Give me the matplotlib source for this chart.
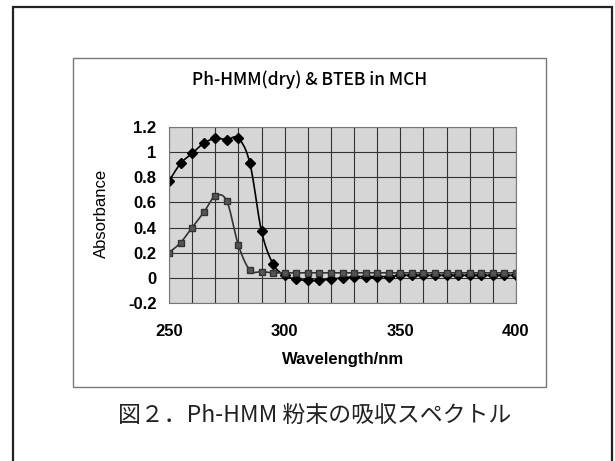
import matplotlib
matplotlib.use('Agg')
import numpy as np
import matplotlib.pyplot as plt
from matplotlib.patches import Rectangle
from matplotlib.ticker import MultipleLocator, FormatStrFormatter

plt.rcParams['font.family'] = ['Liberation Sans', 'DejaVu Sans']
plt.rcParams['axes.unicode_minus'] = False

# wavelength (nm), 5 nm steps
wl = list(range(250, 405, 5))

# Ph-HMM(dry) - diamonds
ph_hmm = [0.77, 0.91, 0.99, 1.07, 1.11, 1.10, 1.11, 0.91, 0.37, 0.11,
          0.02, -0.01, -0.02, -0.02, -0.01, 0.00, 0.01, 0.01, 0.01, 0.01,
          0.02, 0.02, 0.02, 0.02, 0.02, 0.02, 0.02, 0.02, 0.02, 0.02, 0.02]

# BTEB in MCH - squares
bteb = [0.20, 0.28, 0.40, 0.52, 0.65, 0.61, 0.26, 0.06, 0.05, 0.04,
        0.04, 0.04, 0.04, 0.04, 0.04, 0.04, 0.04, 0.04, 0.04, 0.04,
        0.04, 0.04, 0.04, 0.04, 0.04, 0.04, 0.04, 0.04, 0.04, 0.04, 0.04]

title = 'Ph-HMM(dry) & BTEB in MCH'
caption = '図２．Ph-HMM 粉末の吸収スペクトル'


def smooth(x, y, n=12):
    # Excel-like smoothed line (Catmull-Rom through the points), drawing only
    x = np.asarray(x, float)
    y = np.asarray(y, float)
    px = np.r_[x[0], x, x[-1]]
    py = np.r_[y[0], y, y[-1]]
    t = np.linspace(0, 1, n, endpoint=False)[:, None]
    segs_x, segs_y = [], []
    for i in range(1, len(x)):
        p0, p1, p2, p3 = px[i - 1], px[i], px[i + 1], px[i + 2]
        q0, q1, q2, q3 = py[i - 1], py[i], py[i + 1], py[i + 2]
        h = [2 * t**3 - 3 * t**2 + 1, t**3 - 2 * t**2 + t, -2 * t**3 + 3 * t**2, t**3 - t**2]
        segs_x.append(h[0] * p1 + h[1] * (p2 - p0) / 2 + h[2] * p2 + h[3] * (p3 - p1) / 2)
        segs_y.append(h[0] * q1 + h[1] * (q2 - q0) / 2 + h[2] * q2 + h[3] * (q3 - q1) / 2)
    sx = np.r_[np.concatenate(segs_x).ravel(), x[-1]]
    sy = np.r_[np.concatenate(segs_y).ravel(), y[-1]]
    return sx, sy


fig = plt.figure(figsize=(6.15, 4.61), dpi=100)
W, H = 615.0, 461.0


# outer frame and chart box (pixel coords -> figure fraction)
def box(x0, y0, x1, y1, lw, col):
    fig.patches.append(Rectangle((x0 / W, 1 - y1 / H), (x1 - x0) / W, (y1 - y0) / H,
                                 transform=fig.transFigure, fill=False,
                                 lw=lw, edgecolor=col, zorder=0))


box(13, 7, 612, 470, 1.6, '#222222')
box(73, 58, 546, 387, 1.0, '#777777')

ax = fig.add_axes([169 / W, 1 - 303 / H, 347 / W, 176 / H])
ax.set_facecolor('#d6d6d6')

sx, sy = smooth(wl, ph_hmm)
ax.plot(sx, sy, color='black', lw=1.2)
ax.plot(wl, ph_hmm, ls='none', marker='D', ms=4.8, mfc='black', mec='black')
sx, sy = smooth(wl, bteb)
ax.plot(sx, sy, color='#333333', lw=1.2)
ax.plot(wl, bteb, ls='none', marker='s', ms=5, mfc='#555555', mec='#333333')

ax.set_xlim(250, 400)
ax.set_ylim(-0.2, 1.2)
ax.xaxis.set_major_locator(MultipleLocator(50))
ax.xaxis.set_minor_locator(MultipleLocator(10))
ax.yaxis.set_major_locator(MultipleLocator(0.2))
ax.yaxis.set_major_formatter(FormatStrFormatter('%g'))
ax.grid(which='both', color='#333333', lw=0.8)
ax.set_axisbelow(True)
for s in ax.spines.values():
    s.set_color('#777777')
    s.set_linewidth(0.8)

ax.tick_params(which='both', length=0)
ax.tick_params(axis='x', pad=15, labelsize=12)
ax.tick_params(axis='y', pad=9, labelsize=12)
for lab in ax.get_xticklabels() + ax.get_yticklabels():
    lab.set_fontweight('bold')

fig.text(101 / W, 1 - 213 / H, 'Absorbance', rotation=90, ha='center', va='center', fontsize=12)
fig.text(343 / W, 1 - 359 / H, 'Wavelength/nm', ha='center', va='center', fontsize=12, fontweight='bold')
fig.text(310 / W, 1 - 80 / H, title, ha='center', va='center', fontsize=12.5, fontweight='medium',
         family=['Noto Sans CJK JP', 'DejaVu Sans'])
fig.text(315 / W, 1 - 415 / H, caption, ha='center', va='center', fontsize=16.5,
         family=['Noto Sans CJK JP', 'DejaVu Sans'], color='#222222')

fig.savefig('out.png', dpi=100)
